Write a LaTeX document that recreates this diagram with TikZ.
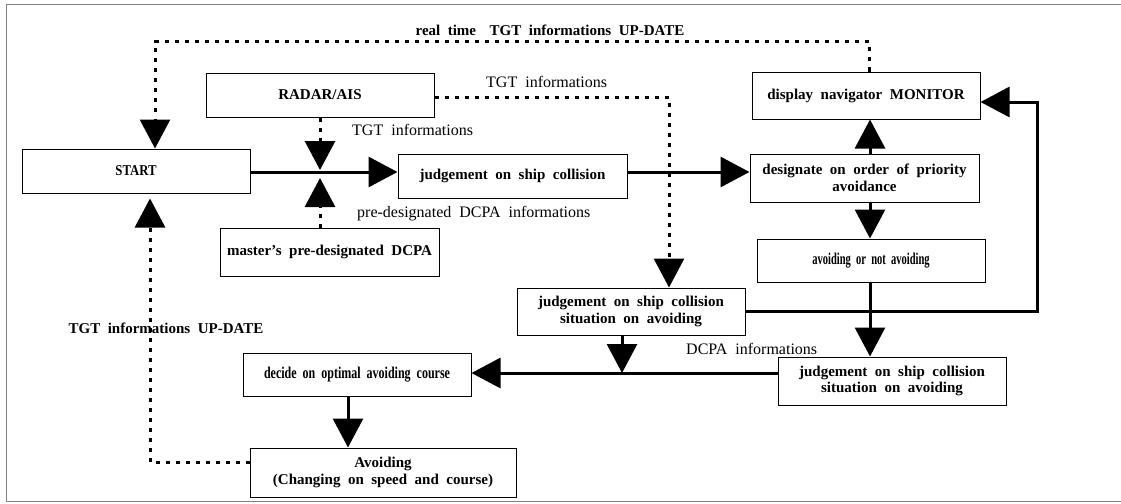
\documentclass[tikz,border=0pt]{standalone}
\usepackage{fontspec}
\setmainfont{Liberation Serif}[WordSpace=2]
\usepackage{graphicx}
\usetikzlibrary{arrows.meta}

\tikzset{
  box/.style={draw, line width=1pt, inner sep=0pt, align=center,
    minimum width=228pt, minimum height=44pt,
    font=\fontsize{15}{16.5}\selectfont\bfseries},
  info/.style={inner sep=0pt, font=\fontsize{16}{18}\selectfont},
  infobold/.style={inner sep=0pt, font=\fontsize{15}{17}\selectfont\bfseries},
  flow/.style={line width=3pt, -{Triangle[length=29pt,width=30pt]}},
  infoline/.style={line width=3pt, dash pattern=on 4pt off 6pt,
    -{Triangle[length=29pt,width=30pt]}}
}

\begin{document}
\begin{tikzpicture}[x=1pt,y=-1pt]
  \useasboundingbox (0,0) rectangle (1121,503);
  \draw[gray, line width=1pt] (6,5) rectangle (1122,501);

  % boxes
  \node[box] (start) at (136,171) {\scalebox{0.85}[1]{START}};
  \node[box] (radar) at (320,95) {RADAR/AIS};
  \node[box, minimum width=219pt, minimum height=48pt] (master) at (329.5,252) {master's pre-designated DCPA};
  \node[box, minimum width=229pt] (judge1) at (512.5,176) {judgement on ship collision};
  \node[box, minimum width=229pt, minimum height=48pt] (designate) at (864.5,178) {designate on order of priority\\avoidance};
  \node[box, minimum height=47pt] (monitor) at (866,95.5) {display navigator MONITOR};
  \node[box, minimum height=43pt] (avoidnot) at (871,260.5) {\scalebox{0.7}[1.1]{avoiding or not avoiding}};
  \node[box, minimum height=47pt] (judge2) at (631,311.5) {judgement on ship collision\\situation on avoiding};
  \node[box, minimum height=48pt] (judge3) at (892,381) {judgement on ship collision\\situation on avoiding};
  \node[box, minimum height=43pt] (decide) at (357,374.5) {\scalebox{0.8}[1.1]{decide on optimal avoiding course}};
  \node[box, minimum width=266pt, minimum height=49pt] (avoiding) at (383,472.5) {Avoiding\\(Changing on speed and course)};

  % labels
  \node[infobold] (lbreal) at (550,30) {real time\hspace{6pt} TGT informations UP-DATE};
  \node[info, anchor=west] (lbradar) at (486,82) {TGT informations};
  \node[info, anchor=west] (lbtgt) at (352,130) {TGT informations};
  \node[info, anchor=west] (lbpre) at (357,214) {pre-designated DCPA informations};
  \node[info, anchor=west] (lbdcpa) at (686,349) {DCPA informations};
  \node[infobold] (lbupdate) at (166,328) {TGT informations UP-DATE};

  % turning points
  \coordinate (jn) at (320,172);
  \coordinate (rc) at (669,97);
  \coordinate (tl) at (155,42);
  \coordinate (tr) at (869,42);
  \coordinate (vx) at (870,0);
  \coordinate (rr) at (1037,311);
  \coordinate (mr) at (1037,102);
  \coordinate (bl) at (622,373);
  \coordinate (dv) at (348,420);
  \coordinate (lb) at (150,462);

  % main flow
  \draw[flow] (start.east |- jn) -- (judge1.west |- jn);
  \draw[flow] (judge1.east |- jn) -- (designate.west |- jn);
  \draw[flow] (designate.north -| vx) -- (monitor.south -| vx);
  \draw[flow] (designate.south -| vx) -- (avoidnot.north -| vx);
  \draw[flow] (avoidnot.south -| vx) -- (judge3.north -| vx);
  \draw[flow] (judge2.east |- rr) -- (rr) -- (mr) -- (monitor.east |- mr);
  \draw[flow] (judge2.south -| bl) -- (bl);
  \draw[flow] (judge3.west |- bl) -- (decide.east |- bl);
  \draw[flow] (decide.south -| dv) -- (avoiding.north -| dv);

  % information lines
  \draw[infoline] (radar.south -| jn) -- ([yshift=2pt]jn);
  \draw[infoline] (master.north -| jn) -- ([yshift=-6pt]jn);
  \draw[infoline] (radar.east |- rc) -- (rc) -- (rc |- judge2.north);
  \draw[infoline] (monitor.north -| tr) -- (tr) -- (tl) -- (tl |- start.north);
  \draw[infoline] (avoiding.west |- lb) -- (lb) -- ([yshift=-5pt]lb |- start.south);
\end{tikzpicture}
\end{document}
